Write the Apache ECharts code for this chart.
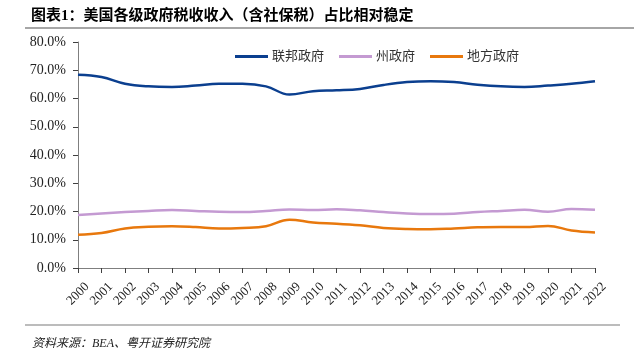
<!DOCTYPE html>
<html>
<head>
<meta charset="utf-8">
<script src="https://cdn.jsdelivr.net/npm/echarts@6/dist/echarts.min.js"></script>
<style>
html,body{margin:0;padding:0;background:#fff;}
#c{width:634px;height:356px;}
</style>
</head>
<body>
<div id="c"></div>
<script>
var years = ['2000','2001','2002','2003','2004','2005','2006','2007','2008','2009','2010','2011','2012','2013','2014','2015','2016','2017','2018','2019','2020','2021','2022'];
var federal = [68.4,67.6,65.2,64.3,64.1,64.6,65.2,65.2,64.3,61.4,62.6,62.9,63.4,64.8,65.8,66.1,65.8,64.9,64.3,64.1,64.6,65.2,66.1];
var state = [18.8,19.3,19.8,20.2,20.5,20.2,19.9,19.8,20.2,20.7,20.5,20.8,20.4,19.8,19.3,19.1,19.2,19.8,20.2,20.6,19.9,20.9,20.6];
var local = [11.8,12.4,14.0,14.6,14.8,14.5,14.0,14.2,14.8,17.1,16.1,15.7,15.1,14.2,13.8,13.7,14.0,14.4,14.5,14.5,14.9,13.3,12.6];
var seriesNames = ['联邦政府','州政府','地方政府'];
var colors = ['#0b3f8f','#c49ad2','#e8780d'];
var titleText = '图表1：美国各级政府税收收入（含社保税）占比相对稳定';
var sourceText = '资料来源：BEA、粤开证券研究院';

var chart = echarts.init(document.getElementById('c'), null, {renderer:'canvas'});
var serif = '"Liberation Serif","DejaVu Serif","Noto Sans CJK SC",serif';
var cjk = '"Liberation Serif","Noto Sans CJK SC",serif';
var datasets = [federal, state, local];
chart.setOption({
  animation:false,
  color: colors,
  title: [
    {text: titleText, left: 26, top: 4, textStyle:{fontFamily: cjk, fontSize: 15, fontWeight:'bold', color:'#000'}},
    {text: sourceText, left: 27, top: 333, textStyle:{fontFamily: cjk, fontSize: 12, fontStyle:'italic', fontWeight:'normal', color:'#222'}}
  ],
  graphic: [
    {type:'line', shape:{x1:25,y1:28,x2:634,y2:28}, style:{stroke:'#a6a6a6', lineWidth:2}},
    {type:'line', shape:{x1:25,y1:325,x2:620,y2:325}, style:{stroke:'#a6a6a6', lineWidth:1.5}}
  ],
  legend: {
    top: 45, left: 230,
    icon: 'rect',
    itemWidth: 33, itemHeight: 3, itemGap: 15,
    data: seriesNames,
    textStyle: {fontFamily: cjk, fontSize: 13, color:'#333', padding:[0,0,0,-1]}
  },
  grid: {left: 78, right: 39, top: 42, bottom: 88},
  xAxis: {
    type:'category', data: years, boundaryGap:false,
    axisLine:{lineStyle:{color:'#7f7f7f', width:1}},
    axisTick:{show:true, alignWithLabel:true, length:5, lineStyle:{color:'#404040'}},
    axisLabel:{rotate:45, interval:0, fontFamily: serif, fontSize: 13, color:'#222', margin: 26, align:'center', verticalAlign:'middle'}
  },
  yAxis: {
    type:'value', min:0, max:80, interval:10,
    axisLine:{show:true, lineStyle:{color:'#7f7f7f', width:1}},
    axisTick:{show:true, length:5, lineStyle:{color:'#404040'}},
    splitLine:{show:false},
    axisLabel:{formatter: function(v){return v.toFixed(1)+'%';}, fontFamily: serif, fontSize: 14, color:'#222', margin: 12}
  },
  series: seriesNames.map(function(n,i){
    return {name:n, type:'line', data: datasets[i], smooth:0.4, symbol:'none', showSymbol:false,
      lineStyle:{width:2.5, color: colors[i]}, itemStyle:{color: colors[i]}};
  })
});
</script>
</body>
</html>
